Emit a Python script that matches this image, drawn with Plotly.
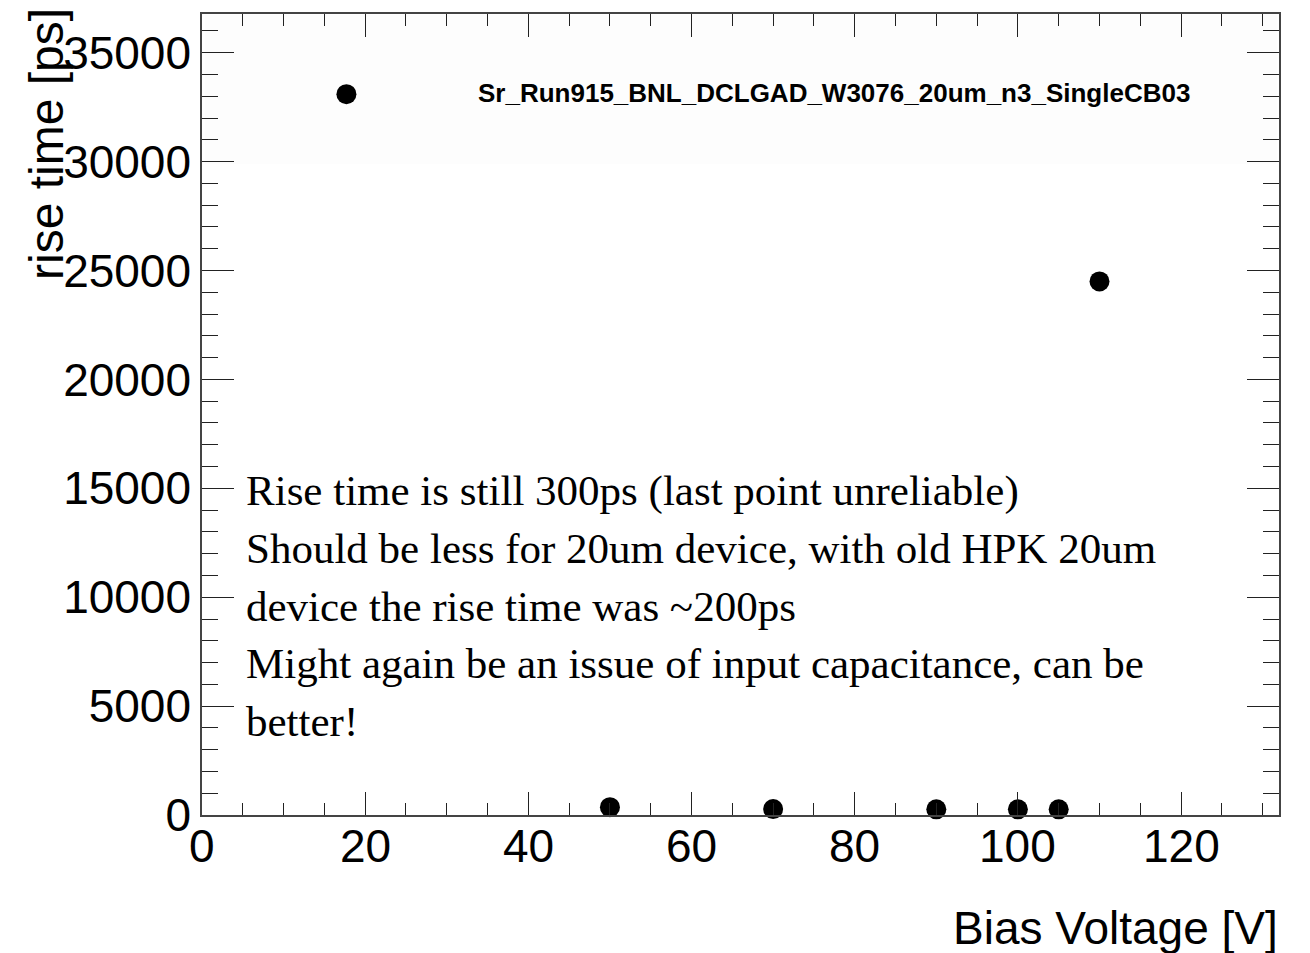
import plotly.graph_objects as go

# ---- data ----
bias_voltage = [17.7, 50, 70, 90, 100, 105, 110]
rise_time_ps = [33100, 360, 270, 260, 260, 260, 24500]
x_ticks = [0, 20, 40, 60, 80, 100, 120]

title_text = "Sr_Run915_BNL_DCLGAD_W3076_20um_n3_SingleCB03"
note_lines = [
    "Rise time is still 300ps (last point unreliable)",
    "Should be less for 20um device, with old HPK 20um",
    "device the rise time was ~200ps",
    "Might again be an issue of input capacitance, can be",
    "better!",
]
x_title = "Bias Voltage [V]"
y_title = "rise time [ps]"

# ---- layout geometry (pixels) ----
W, H = 1310, 953
L, R, T, B = 202, 1279, 12, 815
PW, PH = R - L, B - T


def px(x):
    return (x - L) / PW


def py(y):
    return (B - y) / PH


fig = go.Figure()
fig.add_trace(go.Scatter(
    x=bias_voltage, y=rise_time_ps, mode="markers",
    marker=dict(color="black", size=20, line=dict(width=0)),
    showlegend=False, cliponaxis=False,
))

sans = "Liberation Sans, Arial, Helvetica, sans-serif"
serif = "Liberation Serif, Times New Roman, serif"

axis_common = dict(
    showgrid=False, zeroline=False, showline=True, linecolor="#444444",
    linewidth=1.5, mirror="ticks", ticks="inside", tickcolor="#222222",
    tickwidth=1, tickfont=dict(family=sans, size=46, color="black"),
)

fig.update_xaxes(
    range=[0, 132], tickmode="array", tickvals=x_ticks, ticklen=23,
    showticklabels=False,
    minor=dict(ticks="inside", dtick=5, ticklen=12, tickcolor="#222222", tickwidth=1),
    **axis_common,
)
fig.update_yaxes(
    range=[0, 36780], tick0=0, dtick=5000, ticklen=32, tickformat="d",
    ticklabelstandoff=0,
    minor=dict(ticks="inside", dtick=1000, ticklen=16, tickcolor="#222222", tickwidth=1),
    **axis_common,
)

annotations = []
# x tick labels placed through the x scale
for v in x_ticks:
    annotations.append(dict(
        text=str(v), x=v, y=py(846), xref="x", yref="paper",
        xanchor="center", yanchor="middle", showarrow=False,
        font=dict(family=sans, size=46, color="black"),
    ))
# title
annotations.append(dict(
    text="<b>%s</b>" % title_text, x=px(834), y=py(91), xref="paper", yref="paper",
    xanchor="center", yanchor="middle", showarrow=False,
    font=dict(family=sans, size=26, color="black"),
))
# note lines
line_centers = [490, 548, 606, 663, 721]
for txt, yc in zip(note_lines, line_centers):
    annotations.append(dict(
        text=txt, x=px(244), y=py(yc), xref="paper", yref="paper",
        xanchor="left", yanchor="middle", showarrow=False,
        font=dict(family=serif, size=43, color="black"),
    ))
# axis titles
annotations.append(dict(
    text=x_title, x=px(1280), y=py(928), xref="paper", yref="paper",
    xanchor="right", yanchor="middle", showarrow=False,
    font=dict(family=sans, size=46, color="black"),
))
annotations.append(dict(
    text=y_title, x=px(46), y=py(4), xref="paper", yref="paper",
    xanchor="center", yanchor="top", textangle=-90, showarrow=False,
    font=dict(family=sans, size=48, color="black"),
))

fig.update_layout(
    width=W, height=H,
    margin=dict(l=L, r=W - R, t=T, b=H - B, pad=0),
    paper_bgcolor="white", plot_bgcolor="white",
    annotations=annotations,
    shapes=[dict(type="rect", xref="paper", yref="paper",
                 x0=px(205), x1=px(1277), y0=py(162), y1=py(13),
                 fillcolor="#fdfdfd", line=dict(width=0), layer="below")],
)

fig.write_html("out.html")
